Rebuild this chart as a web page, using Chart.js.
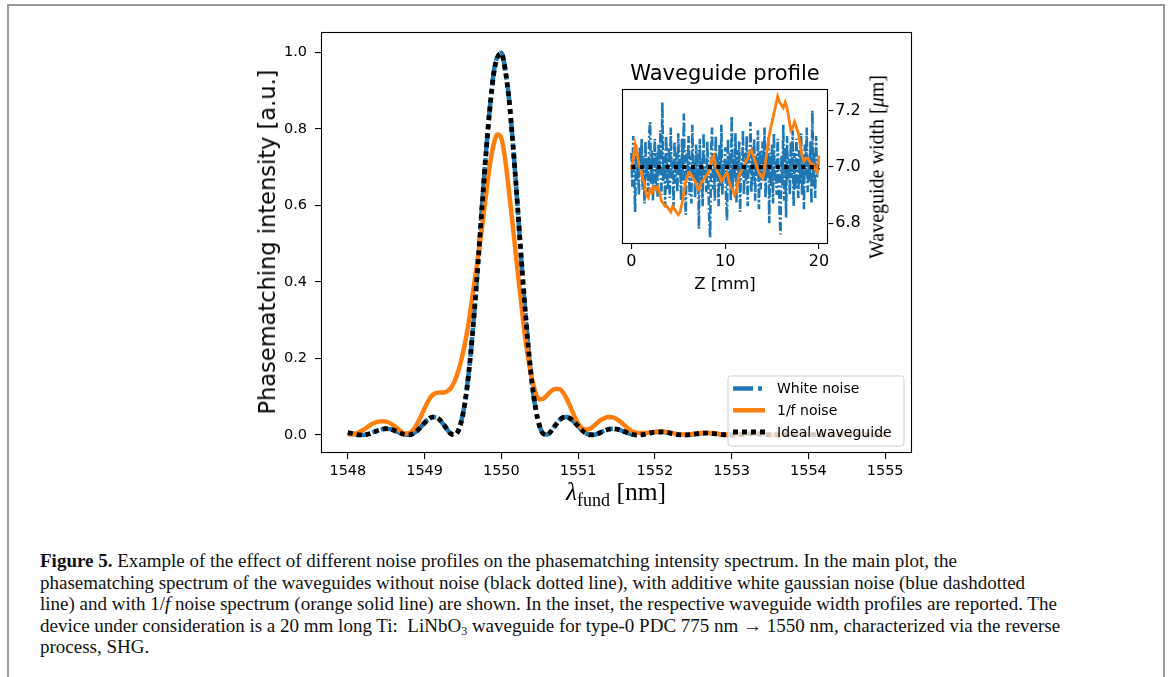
<!DOCTYPE html>
<html>
<head>
<meta charset="utf-8">
<script src="https://cdn.jsdelivr.net/npm/chart.js@4.4.1/dist/chart.umd.min.js"></script>
<style>
  html, body { margin:0; padding:0; background:#fff; }
  body { width:1170px; height:677px; position:relative; overflow:hidden; font-family:"DejaVu Sans", sans-serif; }
  #frame { position:absolute; left:7px; top:4px; width:1154px; height:720px; border:2px solid #9a9a9a; border-bottom:none; }
  #mainWrap { position:absolute; left:200px; top:0px; width:740px; height:520px; }
  #insetWrap { position:absolute; left:560px; top:40px; width:380px; height:260px; }
  .lbl { position:absolute; white-space:nowrap; color:#000; }
  #ylab { font-family:"DejaVu Sans"; font-size:22.5px; left:267px; top:242px; transform:translate(-50%,-50%) rotate(-90deg); }
  #xlab { font-family:"Liberation Serif", serif; font-size:25.5px; left:616px; top:492px; transform:translate(-50%,-50%); }
  #xlab sub { font-size:18px; vertical-align:-6px; line-height:0; }
  #ititle { font-size:21px; left:725px; top:73px; transform:translate(-50%,-50%); }
  #ixlab { font-size:16.5px; left:725px; top:283px; transform:translate(-50%,-50%); }
  #iylab { font-family:"Liberation Serif", serif; font-size:20px; left:877px; top:167px; transform:translate(-50%,-50%) rotate(-90deg); }
  #caption { position:absolute; left:40px; top:550px; font-family:"Liberation Serif", serif; font-size:19px; line-height:21.6px; white-space:nowrap; color:#111; }
  #caption sub { font-size:12px; vertical-align:-3px; line-height:0; }
</style>
</head>
<body>
<div id="frame"></div>
<div id="mainWrap"><canvas id="main" width="740" height="520"></canvas></div>
<div id="insetWrap"><canvas id="inset" width="380" height="260"></canvas></div>
<div class="lbl" id="ylab">Phasematching intensity [a.u.]</div>
<div class="lbl" id="xlab"><i>λ</i><sub>fund</sub> [nm]</div>
<div class="lbl" id="ititle">Waveguide profile</div>
<div class="lbl" id="ixlab">Z [mm]</div>
<div class="lbl" id="iylab">Waveguide width [<i>μ</i>m]</div>
<div id="caption"><b>Figure 5.</b> Example of the effect of different noise profiles on the phasematching intensity spectrum. In the main plot, the<br>phasematching spectrum of the waveguides without noise (black dotted line), with additive white gaussian noise (blue dashdotted<br>line) and with 1/<i>f</i> noise spectrum (orange solid line) are shown. In the inset, the respective waveguide width profiles are reported. The<br>device under consideration is a 20 mm long Ti:&nbsp; LiNbO<sub>3</sub> waveguide for type-0 PDC 775 nm → 1550 nm, characterized via the reverse<br>process, SHG.</div>
<script>
// ---------- main plot data ----------
const lambdaNm = [
 1548.00,1548.05,1548.10,1548.15,1548.20,1548.25,1548.30,1548.35,1548.40,1548.45,
 1548.50,1548.55,1548.60,1548.65,1548.70,1548.75,1548.80,1548.85,1548.90,1548.95,
 1549.00,1549.05,1549.10,1549.15,1549.20,1549.25,1549.30,1549.35,1549.40,1549.45,
 1549.50,1549.55,1549.60,1549.65,1549.70,1549.75,1549.80,1549.85,1549.90,1549.95,
 1550.00,1550.05,1550.10,1550.15,1550.20,1550.25,1550.30,1550.35,1550.40,1550.45,
 1550.50,1550.55,1550.60,1550.65,1550.70,1550.75,1550.80,1550.85,1550.90,1550.95,
 1551.00,1551.05,1551.10,1551.15,1551.20,1551.25,1551.30,1551.35,1551.40,1551.45,
 1551.50,1551.55,1551.60,1551.65,1551.70,1551.75,1551.80,1551.85,1551.90,1551.95,
 1552.00,1552.10,1552.20,1552.30,1552.40,1552.50,1552.60,1552.70,1552.80,1552.90,
 1553.00,1553.10,1553.20,1553.30,1553.40,1553.50,1553.60,1553.70,1553.80,1553.90,
 1554.00,1554.10,1554.20,1554.30,1554.40,1554.50,1554.60,1554.70,1554.80,1554.90,
 1555.00
];
const idealWaveguide = [
 0.0061,0.0039,0.0017,0.0003,0.0001,0.0016,0.0045,0.0083,0.0122,0.0152,
 0.0165,0.0156,0.0125,0.0082,0.0037,0.0006,0.0003,0.0037,0.0108,0.0208,
 0.0317,0.0412,0.0466,0.0462,0.0392,0.0271,0.0131,0.0022,0.0012,0.0166,
 0.0548,0.1192,0.2110,0.3269,0.4607,0.6018,0.7368,0.8530,0.9436,0.9873,
 0.9964,0.9541,0.8767,0.7622,0.6295,0.4882,0.3525,0.2325,0.1353,0.0653,
 0.0223,0.0027,0.0010,0.0104,0.0243,0.0372,0.0453,0.0470,0.0427,0.0338,
 0.0229,0.0126,0.0048,0.0007,0.0003,0.0029,0.0072,0.0117,0.0151,0.0165,
 0.0156,0.0129,0.0091,0.0052,0.0020,0.0003,0.0001,0.0013,0.0034,0.0057,
 0.0075,0.0080,0.0048,0.0011,0.0001,0.0020,0.0044,0.0049,0.0030,0.0007,
 0.0000,0.0013,0.0029,0.0033,0.0020,0.0005,0.0000,0.0009,0.0021,0.0024,
 0.0015,0.0004,0.0000,0.0007,0.0016,0.0018,0.0011,0.0003,0.0000,0.0005,
 0.0012
];
const whiteNoise = [
 0.0058,0.0037,0.0016,0.0004,0.0002,0.0017,0.0047,0.0086,0.0125,0.0154,
 0.0166,0.0155,0.0123,0.0080,0.0036,0.0006,0.0004,0.0040,0.0112,0.0213,
 0.0322,0.0416,0.0468,0.0460,0.0388,0.0266,0.0127,0.0021,0.0014,0.0172,
 0.0560,0.1210,0.2132,0.3292,0.4630,0.6040,0.7390,0.8552,0.9460,0.9905,
 0.9985,0.9560,0.8772,0.7610,0.6270,0.4850,0.3490,0.2295,0.1330,0.0640,
 0.0218,0.0028,0.0012,0.0108,0.0249,0.0378,0.0457,0.0472,0.0426,0.0334,
 0.0224,0.0122,0.0046,0.0007,0.0004,0.0031,0.0075,0.0120,0.0153,0.0166,
 0.0156,0.0127,0.0089,0.0050,0.0019,0.0003,0.0002,0.0014,0.0036,0.0059,
 0.0076,0.0079,0.0046,0.0010,0.0002,0.0021,0.0045,0.0049,0.0029,0.0007,
 0.0001,0.0014,0.0030,0.0033,0.0019,0.0005,0.0001,0.0010,0.0021,0.0024,
 0.0014,0.0004,0.0001,0.0008,0.0016,0.0018,0.0010,0.0003,0.0001,0.0006,
 0.0012
];
const oneOverFNoise = [
 0.002,0.002,0.004,0.008,0.013,0.020,0.027,0.032,0.035,0.036,
 0.035,0.031,0.024,0.016,0.008,0.004,0.005,0.013,0.028,0.048,
 0.070,0.090,0.104,0.110,0.111,0.111,0.115,0.125,0.145,0.175,
 0.215,0.265,0.330,0.400,0.470,0.545,0.630,0.705,0.760,0.785,
 0.775,0.720,0.635,0.545,0.450,0.360,0.270,0.200,0.145,0.108,
 0.093,0.095,0.105,0.115,0.120,0.120,0.112,0.095,0.073,0.050,
 0.030,0.018,0.014,0.016,0.023,0.032,0.040,0.045,0.047,0.046,
 0.042,0.035,0.026,0.017,0.010,0.006,0.005,0.005,0.006,0.007,
 0.008,0.009,0.006,0.002,0.001,0.003,0.005,0.006,0.004,0.001,
 0.001,0.002,0.003,0.004,0.003,0.001,0.001,0.001,0.002,0.003,
 0.002,0.001,0.001,0.001,0.002,0.002,0.001,0.001,0.000,0.001,
 0.001
];
const mainXTicks = [1548,1549,1550,1551,1552,1553,1554,1555];
const mainYTicks = [0.0,0.2,0.4,0.6,0.8,1.0];
const seriesLabels = ['White noise','1/f noise','Ideal waveguide'];

// ---------- inset data ----------
const zWhite = [
 0.0,0.1,0.2,0.3,0.4,0.5,0.6,0.7,0.8,0.9,1.0,1.1,1.2,1.3,1.4,1.5,1.6,1.7,1.8,1.9,
 2.0,2.1,2.2,2.3,2.4,2.5,2.6,2.7,2.8,2.9,3.0,3.1,3.2,3.3,3.4,3.5,3.6,3.7,3.8,3.9,
 4.0,4.1,4.2,4.3,4.4,4.5,4.6,4.7,4.8,4.9,5.0,5.1,5.2,5.3,5.4,5.5,5.6,5.7,5.8,5.9,
 6.0,6.1,6.2,6.3,6.4,6.5,6.6,6.7,6.8,6.9,7.0,7.1,7.2,7.3,7.4,7.5,7.6,7.7,7.8,7.9,
 8.0,8.1,8.2,8.3,8.4,8.5,8.6,8.7,8.8,8.9,9.0,9.1,9.2,9.3,9.4,9.5,9.6,9.7,9.8,9.9,
 10.0,10.1,10.2,10.3,10.4,10.5,10.6,10.7,10.8,10.9,11.0,11.1,11.2,11.3,11.4,11.5,11.6,11.7,11.8,11.9,
 12.0,12.1,12.2,12.3,12.4,12.5,12.6,12.7,12.8,12.9,13.0,13.1,13.2,13.3,13.4,13.5,13.6,13.7,13.8,13.9,
 14.0,14.1,14.2,14.3,14.4,14.5,14.6,14.7,14.8,14.9,15.0,15.1,15.2,15.3,15.4,15.5,15.6,15.7,15.8,15.9,
 16.0,16.1,16.2,16.3,16.4,16.5,16.6,16.7,16.8,16.9,17.0,17.1,17.2,17.3,17.4,17.5,17.6,17.7,17.8,17.9,
 18.0,18.1,18.2,18.3,18.4,18.5,18.6,18.7,18.8,18.9,19.0,19.1,19.2,19.3,19.4,19.5,19.6,19.7,19.8,19.9,
 20.0
];
const widthWhite = [
 7.05,6.93,7.11,6.97,6.84,7.08,6.95,7.02,6.90,7.07, 6.98,7.10,6.92,7.04,6.87,7.09,6.96,7.03,6.91,7.12,
 7.16,6.94,7.06,6.88,7.01,7.10,6.93,7.05,6.89,7.08, 6.97,7.13,6.90,7.23,6.95,7.04,6.86,7.11,6.98,6.92,
 7.07,6.89,7.14,6.96,7.02,6.85,7.09,6.94,7.05,6.91, 7.12,6.97,7.03,6.88,7.10,6.95,7.19,6.92,6.83,7.06,
 6.99,7.11,6.90,7.04,6.87,7.15,6.96,7.02,6.89,7.08, 6.94,7.06,6.78,7.10,6.93,7.03,6.86,7.12,6.97,7.00,
 6.91,7.09,6.95,6.82,6.75,7.05,7.14,6.92,7.03,6.88, 7.11,6.96,7.04,6.86,7.08,6.93,7.15,6.90,7.01,6.97,
 7.07,6.89,6.81,7.10,6.94,7.05,6.88,7.18,6.92,7.03, 6.96,7.12,6.87,7.06,6.93,7.09,6.84,7.02,6.97,7.13,
 6.90,7.05,6.95,7.11,6.86,7.03,6.98,7.16,6.91,7.07, 6.94,7.10,6.88,7.04,6.97,7.13,6.85,7.06,6.92,7.01,
 7.09,6.95,7.14,6.89,7.03,6.96,7.11,6.80,7.05,6.93, 7.08,6.87,7.12,6.94,7.02,6.90,7.10,6.97,6.84,6.76,
 7.04,6.93,7.15,6.88,7.07,6.82,7.11,6.95,7.03,6.90, 7.09,6.96,7.13,6.86,7.05,6.92,7.10,6.98,6.89,7.06,
 6.94,7.12,6.90,7.04,6.85,7.08,6.97,7.14,6.91,7.02, 6.95,7.09,6.87,7.20,6.93,7.05,6.89,7.11,6.96,7.03,
 6.98
];
const zOneOverF = [
 0.0,0.2,0.4,0.6,0.8,1.0,1.2,1.4,1.6,1.8,2.0,2.2,2.4,2.6,2.8,3.0,3.2,3.4,3.6,3.8,
 4.0,4.2,4.4,4.6,4.8,5.0,5.2,5.4,5.6,5.8,6.0,6.2,6.4,6.6,6.8,7.0,7.2,7.4,7.6,7.8,
 8.0,8.2,8.4,8.6,8.8,9.0,9.2,9.4,9.6,9.8,10.0,10.2,10.4,10.6,10.8,11.0,11.2,11.4,11.6,11.8,
 12.0,12.2,12.4,12.6,12.8,13.0,13.2,13.4,13.6,13.8,14.0,14.2,14.4,14.6,14.8,15.0,15.2,15.4,15.6,15.8,
 16.0,16.2,16.4,16.6,16.8,17.0,17.2,17.4,17.6,17.8,18.0,18.2,18.4,18.6,18.8,19.0,19.2,19.4,19.6,19.8,
 20.0
];
const widthOneOverF = [
 6.99,7.03,7.08,7.05,7.01,6.99,6.96,6.94,6.90,6.89,6.92,6.91,6.93,6.92,6.93,6.91,6.88,6.87,6.86,6.86,
 6.85,6.84,6.86,6.85,6.84,6.83,6.84,6.87,6.91,6.95,6.97,6.98,6.97,6.96,6.95,6.93,6.92,6.94,6.95,6.96,
 6.97,6.98,7.00,7.03,7.04,7.00,6.98,6.97,6.95,6.96,6.97,6.98,6.95,6.93,6.92,6.90,6.91,6.96,6.98,6.99,
 7.00,7.02,7.03,7.05,7.06,7.04,7.02,7.00,6.98,6.97,6.96,6.99,7.04,7.09,7.13,7.16,7.19,7.22,7.25,7.23,
 7.22,7.21,7.23,7.21,7.17,7.13,7.14,7.16,7.14,7.12,7.08,7.04,7.02,7.03,7.03,7.02,7.01,7.01,6.99,6.98,
 7.04
];
const zIdeal = [0, 20];
const widthIdeal = [7.0, 7.0];
const insetXTicks = [0,10,20];
const insetYTicks = [6.8,7.0,7.2];

// ---------- styles ----------
const BLUE = '#1f77b4', ORANGE = '#ff7f0e', BLACK = '#000000';
const toXY = (xs, ys) => xs.map((x,i)=>({x:x, y:ys[i]}));
Chart.defaults.font.family = '"DejaVu Sans", sans-serif';
Chart.defaults.color = '#000';

const boxPlugin = {
  id:'boxPlugin',
  beforeDatasetsDraw(chart, args, opts){
    if (opts.fill){ const a = chart.chartArea; const c = chart.ctx; c.save(); c.fillStyle='#fff'; c.fillRect(a.left,a.top,a.right-a.left,a.bottom-a.top); c.restore(); }
  },
  afterDatasetsDraw(chart, args, opts){
    const a = chart.chartArea, c = chart.ctx;
    c.save();
    c.strokeStyle = '#000'; c.lineWidth = 1.1;
    c.strokeRect(Math.round(a.left)+0.5, Math.round(a.top)+0.5, Math.round(a.right-a.left)-1, Math.round(a.bottom-a.top)-1);
    if (opts.legend){
      const w = 176, h = 70;
      const bx = a.right - 8 - w, by = a.bottom - 7 - h;
      c.beginPath();
      if (c.roundRect) c.roundRect(bx, by, w, h, 3); else c.rect(bx,by,w,h);
      c.fillStyle = 'rgba(255,255,255,0.8)'; c.fill();
      c.strokeStyle = '#cccccc'; c.lineWidth = 1; c.stroke();
      const rows = [12.6, 34.3, 56];
      c.font = '14px "DejaVu Sans"'; c.textBaseline = 'middle'; c.textAlign = 'left';
      chart.data.datasets.forEach((ds, i) => {
        const y = by + rows[i];
        c.save();
        c.beginPath();
        c.strokeStyle = ds.borderColor; c.lineWidth = ds.borderWidth;
        c.setLineDash(ds.borderDash || []); c.lineCap = 'butt';
        c.moveTo(bx + 5, y); c.lineTo(bx + 37, y); c.stroke();
        c.restore();
        c.fillStyle = '#000';
        c.fillText(ds.label, bx + 49, y + 1);
      });
    }
    c.restore();
  }
};

new Chart(document.getElementById('main'), {
  type:'line',
  data:{ datasets:[
    { label:seriesLabels[0], data:toXY(lambdaNm, whiteNoise), borderColor:BLUE, borderWidth:4.5, borderDash:[20,5,4,5], pointRadius:0, cubicInterpolationMode:'monotone', fill:false, order:3 },
    { label:seriesLabels[1], data:toXY(lambdaNm, oneOverFNoise), borderColor:ORANGE, borderWidth:4.5, pointRadius:0, cubicInterpolationMode:'monotone', fill:false, order:2 },
    { label:seriesLabels[2], data:toXY(lambdaNm, idealWaveguide), borderColor:BLACK, borderWidth:4.8, borderDash:[5,4], pointRadius:0, cubicInterpolationMode:'monotone', fill:false, order:1 }
  ]},
  options:{
    responsive:false, animation:false, devicePixelRatio:1,
    layout:{ padding:{ top:32, right:28, left:0, bottom:0 } },
    plugins:{ legend:{display:false}, tooltip:{enabled:false}, boxPlugin:{legend:true, fill:false} },
    scales:{
      x:{ type:'linear', min:1547.65, max:1555.35,
          afterBuildTicks:(s)=>{ s.ticks = mainXTicks.map(v=>({value:v})); },
          afterFit:(s)=>{ s.height = 67; },
          grid:{ drawOnChartArea:false, drawTicks:true, tickLength:6, color:'#000', lineWidth:1.1 },
          border:{ display:false },
          ticks:{ padding:4, font:{size:14.5}, color:'#000', maxRotation:0, autoSkip:false, callback:(v)=>String(v) } },
      y:{ type:'linear', min:-0.047, max:1.053,
          afterBuildTicks:(s)=>{ s.ticks = mainYTicks.map(v=>({value:v})); },
          afterFit:(s)=>{ s.width = 121; },
          grid:{ drawOnChartArea:false, drawTicks:true, tickLength:6, color:'#000', lineWidth:1.1 },
          border:{ display:false },
          ticks:{ padding:8, font:{size:14.5}, color:'#000', autoSkip:false, callback:(v)=>v.toFixed(1) } }
    }
  },
  plugins:[boxPlugin]
});

new Chart(document.getElementById('inset'), {
  type:'line',
  data:{ datasets:[
    { label:'white', data:toXY(zWhite, widthWhite), borderColor:BLUE, borderWidth:2.6, borderDash:[9,2.5,2,2.5], pointRadius:0, tension:0, fill:false, order:3 },
    { label:'1/f', data:toXY(zOneOverF, widthOneOverF), borderColor:ORANGE, borderWidth:2.8, pointRadius:0, tension:0, fill:false, order:2 },
    { label:'ideal', data:toXY(zIdeal, widthIdeal), borderColor:BLACK, borderWidth:4, borderDash:[4,4.5], pointRadius:0, fill:false, order:1 }
  ]},
  options:{
    responsive:false, animation:false, devicePixelRatio:1,
    layout:{ padding:{ top:49, right:0, left:62, bottom:0 } },
    plugins:{ legend:{display:false}, tooltip:{enabled:false}, boxPlugin:{legend:false, fill:true} },
    scales:{
      x:{ type:'linear', min:-1, max:21,
          afterBuildTicks:(s)=>{ s.ticks = insetXTicks.map(v=>({value:v})); },
          afterFit:(s)=>{ s.height = 56; },
          grid:{ drawOnChartArea:false, drawTicks:true, tickLength:5, color:'#000', lineWidth:1.1 },
          border:{ display:false },
          ticks:{ padding:3, font:{size:16}, color:'#000', maxRotation:0, autoSkip:false, callback:(v)=>String(v) } },
      y:{ type:'linear', position:'right', min:6.726, max:7.277,
          afterBuildTicks:(s)=>{ s.ticks = insetYTicks.map(v=>({value:v})); },
          afterFit:(s)=>{ s.width = 111.7; },
          grid:{ drawOnChartArea:false, drawTicks:true, tickLength:5, color:'#000', lineWidth:1.1 },
          border:{ display:false },
          ticks:{ padding:2, font:{size:16}, color:'#000', autoSkip:false, callback:(v)=>v.toFixed(1) } }
    }
  },
  plugins:[boxPlugin]
});
</script>
</body>
</html>
